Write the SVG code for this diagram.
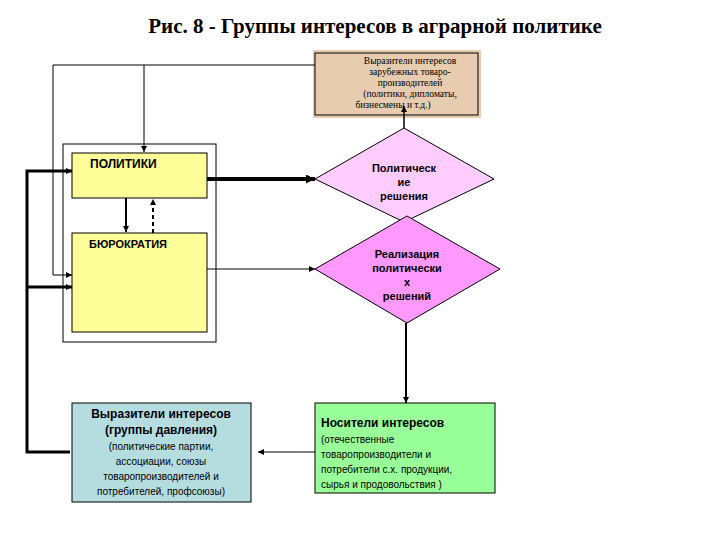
<svg xmlns="http://www.w3.org/2000/svg" width="720" height="540" viewBox="0 0 720 540">
<style>
.t{font-family:"Liberation Sans",Arial,sans-serif;fill:#000}
.b{font-weight:bold}
.ln{fill:none;stroke:#000}
</style>
<defs>
<marker id="a" viewBox="0 0 10 10" refX="10" refY="5" markerWidth="6" markerHeight="6" markerUnits="userSpaceOnUse" orient="auto"><path d="M0,0L10,5L0,10z" fill="#000"/></marker>
<marker id="a2" viewBox="0 0 10 10" refX="10" refY="5" markerWidth="9" markerHeight="9" markerUnits="userSpaceOnUse" orient="auto"><path d="M0,0L10,5L0,10z" fill="#000"/></marker>
</defs>
<rect width="720" height="540" fill="#fff"/>
<text x="375" y="33" text-anchor="middle" font-family="Liberation Serif,serif" font-size="21" font-weight="bold">Рис. 8 - Группы интересов в аграрной политике</text>
<g id="outer"><rect x="63" y="144" width="153" height="198" fill="#fff" stroke="#000"/></g>
<g id="foreign">
<rect x="313" y="50" width="168" height="68" fill="#e8ccb0"/>
<rect x="315" y="53" width="163" height="62" fill="none" stroke="#000"/>
<g font-family="Liberation Serif,serif" font-size="9.5" text-anchor="middle">
<text x="410" y="64">Выразители интересов</text>
<text x="410" y="75">зарубежных товаро-</text>
<text x="410" y="86">производителей</text>
<text x="410" y="97">(политики, дипломаты,</text>
<text x="393" y="108">бизнесмены и т.д.)</text>
</g></g>
<g id="politics"><rect x="72" y="153" width="135" height="45" fill="#ffff99" stroke="#000"/>
<text class="t b" x="90" y="168" font-size="12">ПОЛИТИКИ</text></g>
<g id="bureau"><rect x="72" y="233" width="135" height="99" fill="#ffff99" stroke="#000"/>
<text class="t b" x="89" y="248" font-size="11">БЮРОКРАТИЯ</text></g>
<g id="decisions"><polygon points="315,179 404,128 494,179 404,222" fill="#ffccff" stroke="#000"/>
<g class="t b" font-size="11" text-anchor="middle"><text x="404" y="172">Политическ</text><text x="404" y="186">ие</text><text x="404" y="200">решения</text></g></g>
<g id="impl"><polygon points="315,269 407,216 500,269 407,323" fill="#ff99ff" stroke="#000"/>
<g class="t b" font-size="11" text-anchor="middle"><text x="407" y="258">Реализация</text><text x="407" y="272">политически</text><text x="407" y="286">х</text><text x="407" y="300">решений</text></g></g>
<g id="pressure"><rect x="72" y="403" width="179" height="99" fill="#b5dde0" stroke="#000"/>
<g class="t" text-anchor="middle"><text class="b" x="161" y="418" font-size="12">Выразители интересов</text><text class="b" x="161" y="434" font-size="12">(группы давления)</text>
<g font-size="10"><text x="161" y="450">(политические партии,</text><text x="161" y="465">ассоциации, союзы</text><text x="161" y="480">товаропроизводителей и</text><text x="161" y="495">потребителей, профсоюзы)</text></g></g></g>
<g id="carriers"><rect x="315" y="403" width="180" height="90" fill="#99ff99" stroke="#000"/>
<g class="t"><text class="b" x="321" y="427" font-size="12">Носители интересов</text>
<g font-size="10"><text x="321" y="443">(отечественные</text><text x="321" y="458">товаропроизводители и</text><text x="321" y="473">потребители с.х. продукции,</text><text x="321" y="488">сырья и продовольствия )</text></g></g></g>
<g id="connectors">
<polyline class="ln" points="315,65 53,65 53,275 72,275" marker-end="url(#a)"/>
<line class="ln" x1="144" y1="65" x2="144" y2="152" marker-end="url(#a)"/>
<polyline class="ln" stroke-width="3" points="70,452 27,452 27,171 72,171" marker-end="url(#a)"/>
<line class="ln" stroke-width="3" x1="27" y1="287" x2="72" y2="287" marker-end="url(#a)"/>
<line class="ln" stroke-width="2" x1="126" y1="198" x2="126" y2="232" marker-end="url(#a)"/>
<line class="ln" stroke-width="2" stroke-dasharray="4,3" x1="153" y1="233" x2="153" y2="199" marker-end="url(#a)"/>
<line class="ln" stroke-width="4" x1="207" y1="179" x2="315" y2="179" marker-end="url(#a2)"/>
<line class="ln" x1="207" y1="269" x2="315" y2="269" marker-end="url(#a)"/>
<line class="ln" stroke-width="1.5" x1="404" y1="128" x2="404" y2="106" marker-end="url(#a)"/>
<line class="ln" stroke-width="2" x1="406" y1="323" x2="406" y2="403" marker-end="url(#a)"/>
<line class="ln" x1="315" y1="452" x2="258" y2="452" marker-end="url(#a)"/>
</g>
</svg>
